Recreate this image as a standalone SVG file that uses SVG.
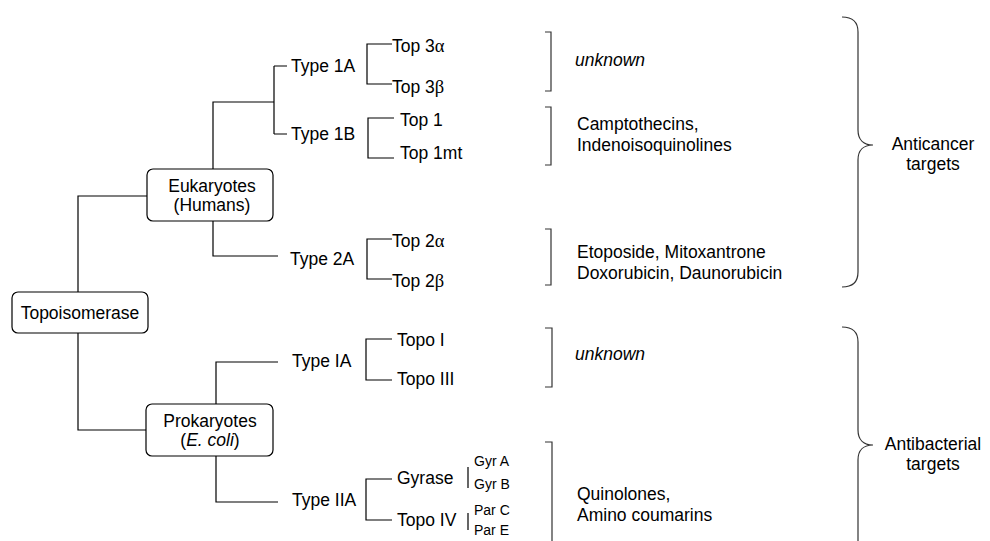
<svg xmlns="http://www.w3.org/2000/svg" width="990" height="541" viewBox="0 0 990 541">
<style>
text{font-family:"Liberation Sans",Arial,sans-serif;font-size:17.5px;fill:#000}
.s{font-size:14px}
.g{font-family:"Liberation Serif","Times New Roman",serif;font-size:18.5px}
.i{font-style:italic}
.box{fill:#fff;stroke:#000;stroke-width:1.2}
.ln{fill:none;stroke:#000;stroke-width:1.2}
.br{fill:none;stroke:#333;stroke-width:1.2}
</style>
<rect width="990" height="541" fill="#fff"/>
<g id="connectors">
<path class="ln" d="M78,292 V196 H147 M78,333 V430 H146"/>
<path class="ln" d="M213,169 V102 H274 M274,66 V134 M274,66 H287 M274,134 H287"/>
<path class="ln" d="M213,221 V256 H278"/>
<path class="ln" d="M216,404 V362 H278 M216,456 V502 H278"/>
<path class="ln" d="M392,44 H367 V84 H392"/>
<path class="ln" d="M394,118 H368 V158 H394"/>
<path class="ln" d="M392,239 H367 V279 H392"/>
<path class="ln" d="M392,339 H366 V380 H392"/>
<path class="ln" d="M392,479 H366 V520 H392"/>
<path class="ln" d="M468,467 V488 M468,513 V530"/>
<path class="br" d="M545,32 H551 V91 H545 M545,107 H551 V165 H545 M545,229 H551 V285 H545 M545,328 H552 V387 H545 M545,442 H552 V541"/>
<path class="br" d="M842,17 C852,17 858,22 858,32 L858,130 C858,140 864,145 873,145 C864,145 858,150 858,160 L858,272 C858,282 852,287 842,287"/>
<path class="br" d="M842,327 C852,327 858,332 858,342 L858,430 C858,440 864,445 873,445 C864,445 858,450 858,460 L858,541"/>
</g>
<g id="topoisomerase"><rect class="box" x="12" y="292" width="136" height="41" rx="6"/><text x="80" y="319" text-anchor="middle">Topoisomerase</text></g>
<g id="eukaryotes"><rect class="box" x="147" y="169" width="126" height="52" rx="6"/><text x="212" y="192" text-anchor="middle">Eukaryotes</text><text x="212" y="211" text-anchor="middle">(Humans)</text></g>
<g id="prokaryotes"><rect class="box" x="146" y="404" width="127" height="52" rx="6"/><text x="210" y="427" text-anchor="middle">Prokaryotes</text><text x="210" y="446" text-anchor="middle">(<tspan class="i">E. coli</tspan>)</text></g>
<g id="type1a"><text x="291" y="72">Type 1A</text></g>
<g id="type1b"><text x="291" y="140">Type 1B</text></g>
<g id="type2a"><text x="290" y="265">Type 2A</text></g>
<g id="typeIA"><text x="292" y="367">Type IA</text></g>
<g id="typeIIA"><text x="292" y="506">Type IIA</text></g>
<g id="top3a"><text x="392" y="52">Top 3<tspan class="g">α</tspan></text></g>
<g id="top3b"><text x="392" y="93">Top 3<tspan class="g">β</tspan></text></g>
<g id="top1"><text x="400" y="126">Top 1</text></g>
<g id="top1mt"><text x="400" y="159">Top 1mt</text></g>
<g id="top2a"><text x="392" y="247">Top 2<tspan class="g">α</tspan></text></g>
<g id="top2b"><text x="392" y="287">Top 2<tspan class="g">β</tspan></text></g>
<g id="topoI"><text x="397" y="346">Topo I</text></g>
<g id="topoIII"><text x="397" y="385">Topo III</text></g>
<g id="gyrase"><text x="397" y="484">Gyrase</text></g>
<g id="topoIV"><text x="397" y="526">Topo IV</text></g>
<g id="gyrA"><text class="s" x="474" y="466">Gyr A</text></g>
<g id="gyrB"><text class="s" x="474" y="489">Gyr B</text></g>
<g id="parC"><text class="s" x="474" y="515">Par C</text></g>
<g id="parE"><text class="s" x="474" y="535">Par E</text></g>
<g id="unknown1"><text class="i" x="575" y="66">unknown</text></g>
<g id="drugs1b"><text x="577" y="130">Camptothecins,</text><text x="577" y="151">Indenoisoquinolines</text></g>
<g id="drugs2a"><text x="577" y="258">Etoposide, Mitoxantrone</text><text x="577" y="279">Doxorubicin, Daunorubicin</text></g>
<g id="unknown2"><text class="i" x="575" y="360">unknown</text></g>
<g id="drugsIIA"><text x="577" y="500">Quinolones,</text><text x="577" y="521">Amino coumarins</text></g>
<g id="anticancer"><text x="933" y="150" text-anchor="middle">Anticancer</text><text x="933" y="170" text-anchor="middle">targets</text></g>
<g id="antibacterial"><text x="933" y="450" text-anchor="middle">Antibacterial</text><text x="933" y="470" text-anchor="middle">targets</text></g>
</svg>
